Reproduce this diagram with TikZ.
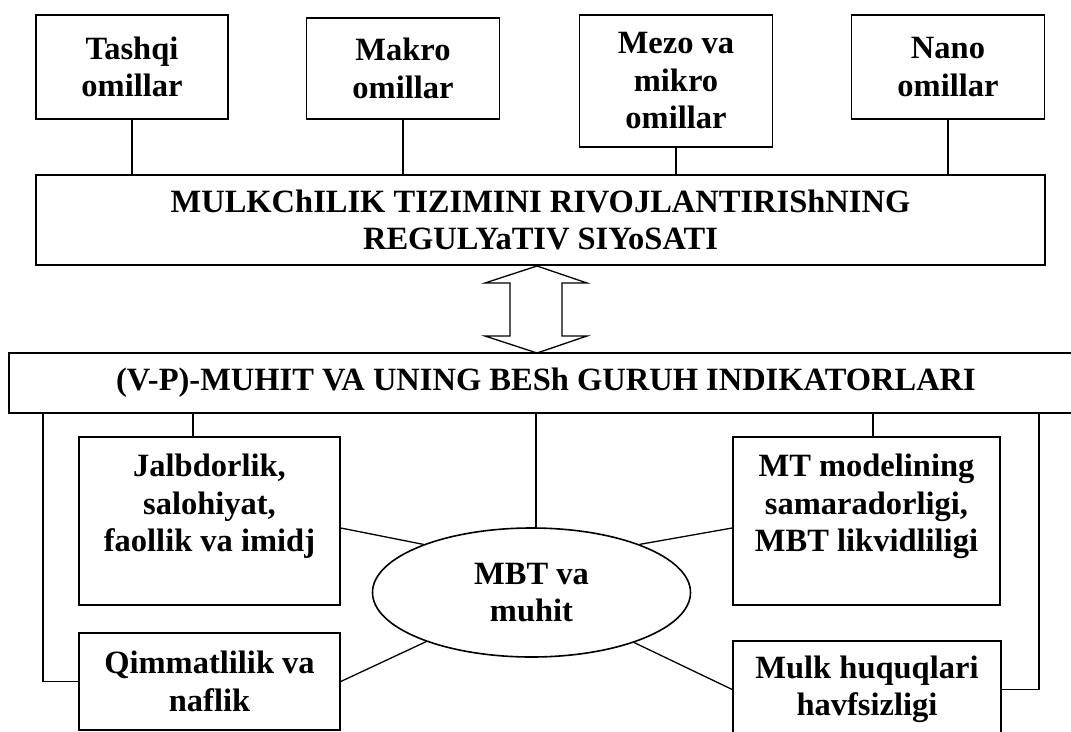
\documentclass[tikz,border=0pt]{standalone}
\usepackage{fontspec}
\setmainfont{Liberation Serif}
\usepackage{tikz}
\usetikzlibrary{positioning,shapes,calc}
\tikzset{
txt/.style={font=\fontsize{32.5}{37.5}\selectfont\bfseries, align=center, inner sep=0pt},
box/.style={draw, line width=1.6pt, txt},
conn/.style={line width=1.3pt}
}

\begin{document}
\begin{tikzpicture}[x=1pt,y=-1pt]
	\useasboundingbox (0,0) rectangle (1071,731);
	\clip (0,0) rectangle (1071,731);
	\node[box, minimum width=192, minimum height=104] (tashqi) at (132,67) {Tashqi\\omillar};
	\node[box, minimum width=193, minimum height=101] (makro) at (403,68.5) {Makro\\omillar};
	\node[box, minimum width=193, minimum height=132] (mezo) at (676,81) {Mezo va\\mikro\\omillar};
	\node[box, minimum width=193, minimum height=104] (nano) at (948,67) {Nano\\omillar};
	\node[box, minimum width=1009, minimum height=90] (main) at (540.5,220) {MULKChILIK TIZIMINI RIVOJLANTIRIShNING\\REGULYaTIV SIYoSATI};
	\foreach \f in {tashqi,makro,mezo,nano}
		\draw[conn] (\f.south) -- (\f.south |- main.north);
	\node[box, minimum width=1074, minimum height=60] (wide) at (546,383) {(V-P)-MUHIT VA UNING BESh GURUH INDIKATORLARI};
	\coordinate (up) at (537,266);
	\coordinate (dn) at (537,353);
	\draw[conn] (up) -- ++(-52,17) -- ++(25,0) -- ++(0,53) -- ++(-25,0) -- (dn) -- ++(50,-17) -- ++(-25,0) -- ++(0,-53) -- ++(25,0) -- cycle;
	\node[box, minimum width=261, minimum height=168] (jal) at (209.5,521) {};
	\node[txt, anchor=north] (jal text) at ([yshift=-18pt]jal.north) {Jalbdorlik,\\salohiyat,\\faollik va imidj};
	\node[box, minimum width=267, minimum height=168] (mt) at (866.5,521) {};
	\node[txt, anchor=north] (mt text) at ([yshift=-18pt]mt.north) {MT modelining\\samaradorligi,\\MBT likvidliligi};
	\node[box, minimum width=261, minimum height=97] (qimm) at (209.5,681.5) {Qimmatlilik va\\naflik};
	\node[box, minimum width=268, minimum height=97] (mulk) at (867,689.5) {Mulk huquqlari\\havfsizligi};
	\node[box, ellipse, minimum width=318, minimum height=129] (mbt) at (531.5,592.5) {MBT va\\muhit};
	\draw[conn] ([xshift=-16.5pt]jal.north) -- ([xshift=-16.5pt]jal.north |- wide.south);
	\draw[conn] ([xshift=6.5pt]mt.north) -- ([xshift=6.5pt]mt.north |- wide.south);
	\draw[conn] (mbt.north -| 536,0) -- (wide.south -| 536,0);
	\draw[conn] (qimm.west) -| (43,0 |- wide.south);
	\draw[conn] (mulk.east) -| (1039,0 |- wide.south);
	\draw[conn] ([yshift=-7pt]jal.east) -- (mbt.156.5);
	\draw[conn] (qimm.east) -- (mbt.205.8);
	\draw[conn] ([yshift=-7pt]mt.west) -- (mbt.24.1);
	\draw[conn] (mulk.west) -- (mbt.334.9);
\end{tikzpicture}
\end{document}
